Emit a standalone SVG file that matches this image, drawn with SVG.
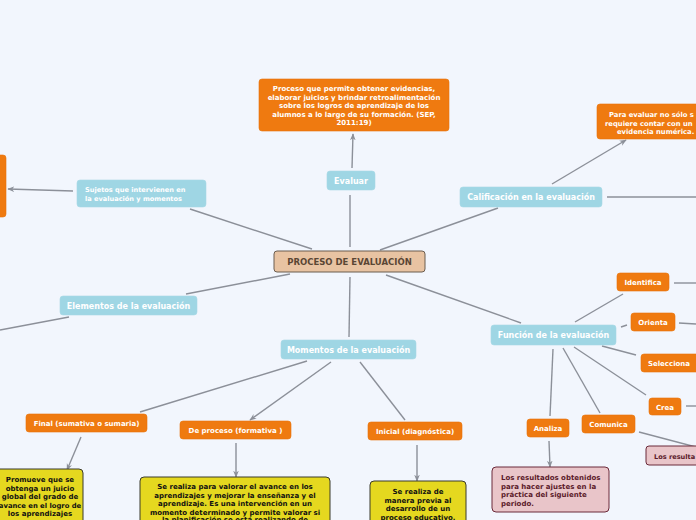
<svg xmlns="http://www.w3.org/2000/svg" width="696" height="520" viewBox="0 0 696 520">
<defs>
<style>
text{font-family:"DejaVu Sans","Verdana",sans-serif;font-weight:bold}
.c{fill:none;stroke:#8c9099;stroke-width:1.4}
.or rect{fill:#ef7a10;stroke:#e8740c;stroke-width:0.6}
.or text{fill:#fff;font-size:7px}
.lb rect{fill:#9fd6e4;stroke:#a7d9e6;stroke-width:0.6}
.lb text{fill:#fff;font-size:8px}
.ye rect{fill:#e5d81f;stroke:#3b3a2c;stroke-width:1}
.ye text{fill:#111;font-size:7px}
.pk rect{fill:#e9c5c9;stroke:#6b2a3a;stroke-width:1}
.pk text{fill:#5b1a2a;font-size:7px}
</style>
<marker id="ar" viewBox="0 0 10 10" refX="9" refY="5" markerWidth="7" markerHeight="7" orient="auto" markerUnits="userSpaceOnUse">
<path d="M0,1 L10,5 L0,9 L3,5 Z" fill="#8c9099"/>
</marker>
</defs>
<rect width="696" height="520" fill="#f2f6fd"/>
<g id="connectors">
<line class="c" x1="350" y1="247" x2="350" y2="195"/>
<line class="c" x1="352" y1="168" x2="353" y2="134" marker-end="url(#ar)"/>
<line class="c" x1="312" y1="249" x2="190" y2="209"/>
<line class="c" x1="73" y1="191" x2="8" y2="189" marker-end="url(#ar)"/>
<line class="c" x1="380" y1="250" x2="498" y2="208"/>
<line class="c" x1="552" y1="184" x2="626" y2="140" marker-end="url(#ar)"/>
<line class="c" x1="607" y1="197" x2="696" y2="197"/>
<line class="c" x1="290" y1="274" x2="186" y2="294"/>
<line class="c" x1="69" y1="317" x2="0" y2="330"/>
<line class="c" x1="350" y1="277" x2="349" y2="337"/>
<line class="c" x1="386" y1="275" x2="521" y2="323"/>
<line class="c" x1="575" y1="322" x2="623" y2="294"/>
<line class="c" x1="674" y1="283" x2="696" y2="283"/>
<line class="c" x1="621" y1="327" x2="627" y2="325"/>
<line class="c" x1="679" y1="323" x2="696" y2="324"/>
<line class="c" x1="602" y1="346" x2="636" y2="355"/>
<line class="c" x1="574" y1="347" x2="646" y2="395"/>
<line class="c" x1="686" y1="406" x2="696" y2="406"/>
<line class="c" x1="563" y1="348" x2="600" y2="413"/>
<line class="c" x1="553" y1="349" x2="550" y2="416"/>
<line class="c" x1="549" y1="441" x2="550" y2="467" marker-end="url(#ar)"/>
<line class="c" x1="639" y1="432" x2="696" y2="447"/>
<line class="c" x1="307" y1="361" x2="140" y2="412"/>
<line class="c" x1="81" y1="437" x2="67" y2="470" marker-end="url(#ar)"/>
<line class="c" x1="331" y1="362" x2="250" y2="420" marker-end="url(#ar)"/>
<line class="c" x1="236" y1="443" x2="236" y2="477" marker-end="url(#ar)"/>
<line class="c" x1="360" y1="362" x2="405" y2="420"/>
<line class="c" x1="417" y1="445" x2="417" y2="481" marker-end="url(#ar)"/>
</g>
<g id="central">
<rect x="274" y="251" width="151" height="21" rx="3" fill="#e8c3a2" stroke="#6b5d4f" stroke-width="1"/>
<text x="349.5" y="265" text-anchor="middle" font-size="8.5" fill="#5a4634">PROCESO DE EVALUACIÓN</text>
</g>
<g id="evaluar" class="lb">
<rect x="327" y="171" width="48" height="19" rx="3"/>
<text x="351" y="184" text-anchor="middle">Evaluar</text>
</g>
<g id="def-evaluar" class="or">
<rect x="259" y="79" width="190" height="52" rx="3"/>
<text x="354" y="91" text-anchor="middle">Proceso que permite obtener evidencias,</text>
<text x="354" y="99.5" text-anchor="middle">elaborar juicios y brindar retroalimentación</text>
<text x="354" y="108" text-anchor="middle">sobre los logros de aprendizaje de los</text>
<text x="354" y="116.5" text-anchor="middle">alumnos a lo largo de su formación. (SEP,</text>
<text x="354" y="125" text-anchor="middle">2011:19)</text>
</g>
<g id="sujetos" class="lb">
<rect x="77" y="180" width="129" height="27" rx="3"/>
<text x="85" y="192" style="font-size:6.6px">Sujetos que intervienen en</text>
<text x="85" y="201" style="font-size:6.6px">la evaluación y momentos</text>
</g>
<g id="sujetos-child" class="or">
<rect x="-20" y="155" width="26" height="62" rx="3"/>
</g>
<g id="calificacion" class="lb">
<rect x="460" y="187" width="142" height="20" rx="3"/>
<text x="531" y="200" text-anchor="middle">Calificación en la evaluación</text>
</g>
<g id="calif-child" class="or">
<rect x="597" y="104" width="130" height="35" rx="3"/>
<text x="609" y="117" style="font-size:6.8px">Para evaluar no sólo s</text>
<text x="605" y="125.5" style="font-size:6.8px">requiere contar con un</text>
<text x="617" y="134" style="font-size:6.8px">evidencia numérica.</text>
</g>
<g id="elementos" class="lb">
<rect x="60" y="296" width="137" height="19" rx="3"/>
<text x="128.5" y="309" text-anchor="middle">Elementos de la evaluación</text>
</g>
<g id="momentos" class="lb">
<rect x="281" y="340" width="135" height="19" rx="3"/>
<text x="348.5" y="353" text-anchor="middle">Momentos de la evaluación</text>
</g>
<g id="funcion" class="lb">
<rect x="491" y="325" width="125" height="20" rx="3"/>
<text x="553.5" y="338" text-anchor="middle">Función de la evaluación</text>
</g>
<g id="identifica" class="or">
<rect x="617" y="273" width="52" height="18" rx="3"/>
<text x="643" y="285" text-anchor="middle">Identifica</text>
</g>
<g id="orienta" class="or">
<rect x="631" y="313" width="44" height="18" rx="3"/>
<text x="653" y="325" text-anchor="middle">Orienta</text>
</g>
<g id="selecciona" class="or">
<rect x="641" y="354" width="60" height="18" rx="3"/>
<text x="669" y="366" text-anchor="middle">Selecciona</text>
</g>
<g id="crea" class="or">
<rect x="649" y="398" width="32" height="17" rx="3"/>
<text x="665" y="410" text-anchor="middle">Crea</text>
</g>
<g id="comunica" class="or">
<rect x="582" y="415" width="53" height="18" rx="3"/>
<text x="608.5" y="427" text-anchor="middle">Comunica</text>
</g>
<g id="analiza" class="or">
<rect x="527" y="419" width="42" height="18" rx="3"/>
<text x="548" y="431" text-anchor="middle">Analiza</text>
</g>
<g id="analiza-child" class="pk">
<rect x="492" y="467" width="117" height="45" rx="4"/>
<text x="501" y="480">Los resultados obtenidos</text>
<text x="501" y="488.5">para hacer ajustes en la</text>
<text x="501" y="497">práctica del siguiente</text>
<text x="501" y="505.5">periodo.</text>
</g>
<g id="comunica-child" class="pk">
<rect x="646" y="446" width="70" height="19" rx="3"/>
<text x="654" y="459" style="font-size:6.6px">Los resulta</text>
</g>
<g id="final" class="or">
<rect x="26" y="414" width="121" height="18" rx="3"/>
<text x="86.5" y="426" text-anchor="middle">Final (sumativa o sumaria)</text>
</g>
<g id="final-child" class="ye">
<rect x="-20" y="469" width="103" height="60" rx="4"/>
<text x="40" y="482" text-anchor="middle">Promueve que se</text>
<text x="40" y="490.5" text-anchor="middle">obtenga un juicio</text>
<text x="40" y="499" text-anchor="middle">global del grado de</text>
<text x="40" y="507.5" text-anchor="middle" style="font-size:6.8px">avance en el logro de</text>
<text x="40" y="516" text-anchor="middle">los aprendizajes</text>
</g>
<g id="proceso" class="or">
<rect x="180" y="421" width="111" height="18" rx="3"/>
<text x="235.5" y="433" text-anchor="middle">De proceso  (formativa )</text>
</g>
<g id="proceso-child" class="ye">
<rect x="140" y="477" width="190" height="60" rx="4"/>
<text x="235" y="489" text-anchor="middle">Se realiza para valorar el avance en los</text>
<text x="235" y="497.5" text-anchor="middle">aprendizajes y mejorar la enseñanza y el</text>
<text x="235" y="506" text-anchor="middle">aprendizaje. Es una intervención en un</text>
<text x="235" y="514.5" text-anchor="middle">momento determinado y permite valorar si</text>
<text x="235" y="522" text-anchor="middle">la planificación se está realizando de</text>
</g>
<g id="inicial" class="or">
<rect x="368" y="422" width="94" height="18" rx="3"/>
<text x="415" y="434" text-anchor="middle">Inicial (diagnóstica)</text>
</g>
<g id="inicial-child" class="ye">
<rect x="370" y="481" width="96" height="60" rx="4"/>
<text x="418" y="494" text-anchor="middle">Se realiza de</text>
<text x="418" y="502.5" text-anchor="middle">manera previa al</text>
<text x="418" y="511" text-anchor="middle">desarrollo de un</text>
<text x="418" y="519.5" text-anchor="middle">proceso educativo,</text>
</g>
</svg>
